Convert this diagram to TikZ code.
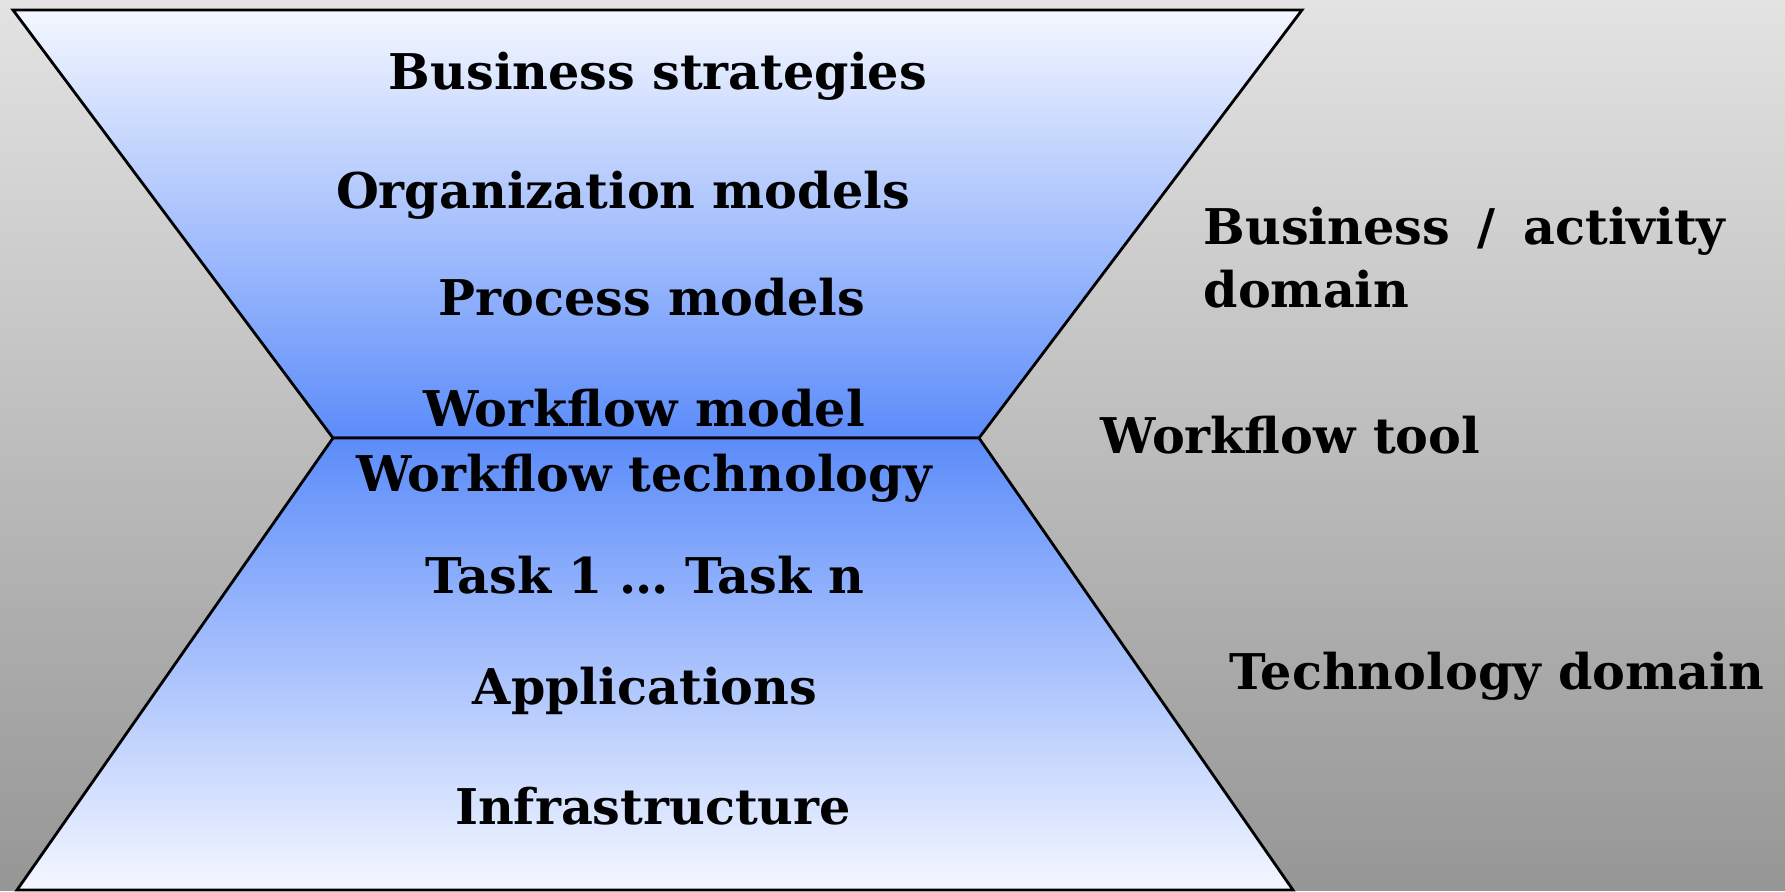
\documentclass[tikz,border=0pt]{standalone}
\usepackage{fontspec}
\setmainfont{DejaVu Serif}
\usepackage{tikz}
\definecolor{bgtop}{RGB}{227,227,227}
\definecolor{bgbot}{RGB}{150,150,150}
\definecolor{pale}{RGB}{244,247,255}
\definecolor{deep}{RGB}{92,140,250}
\tikzset{lbl/.style={anchor=base,font=\fontsize{14}{17}\selectfont\bfseries,inner sep=0pt}}

\begin{document}
\begin{tikzpicture}[x=0.01cm,y=-0.01cm]
	\shade[top color=bgtop,bottom color=bgbot] (0,0) rectangle (1785,890); %Hintergrund
	\coordinate (tl) at (13,10); %oben
	\coordinate (tr) at (1302,10);
	\coordinate (wl) at (333,438); %Taille
	\coordinate (wr) at (979,438);
	\coordinate (bl) at (17,890); %unten
	\coordinate (br) at (1293,890);
	\path[draw,line width=0.8pt,top color=pale,bottom color=deep] (tl) -- (tr) -- (wr) -- (wl) -- cycle; %Geschaeft
	\path[draw,line width=0.8pt,top color=deep,bottom color=pale] (wl) -- (wr) -- (br) -- (bl) -- cycle; %Technik
	\node[lbl] (strat) at (658,89) {Business strategies};
	\node[lbl] (org) at (623,208) {Organization models};
	\node[lbl] (proc) at (652,315) {Process models};
	\node[lbl] (wfm) at (644,426) {Workflow model};
	\node[lbl] (wft) at (644,491) {Workflow technology};
	\node[lbl] (task) at (645,593) {Task 1 \dots{} Task n};
	\node[lbl] (app) at (645,704) {Applications};
	\node[lbl] (infra) at (653,824) {Infrastructure};
	\node[lbl,anchor=base west] (bus) at (1203,244) {Business\hspace{3pt} /\hspace{3pt} activity}; %rechts
	\node[lbl,anchor=base west] (dom) at (1203,307) {domain};
	\node[lbl,anchor=base west] (tool) at (1100,453) {Workflow tool};
	\node[lbl,anchor=base west] (tech) at (1229,689) {Technology domain};
\end{tikzpicture}
\end{document}
